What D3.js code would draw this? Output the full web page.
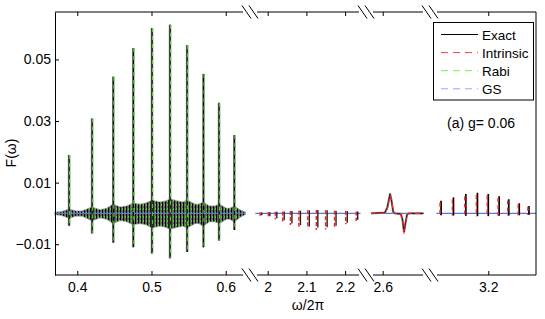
<!DOCTYPE html>
<html>
<head>
<meta charset="utf-8">
<script src="https://cdn.jsdelivr.net/npm/d3@7"></script>
<style>
  body { margin: 0; background: #fff; }
  text { font-family: "Liberation Sans", Arial, sans-serif; }
</style>
</head>
<body>
<svg id="chart"></svg>
<script>
const width = 545
const height = 319

// broken x axis: the four omega/2pi windows shown
const segDomains = [[0.37, 0.6327], [1.9543, 2.254], [2.5568, 2.7222], [3.0494, 3.3233]]
const baseExtents = [[0.37, 0.626], [1.968, 2.24], [2.57, 2.705], [3.066, 3.323]]

const xTicks = [0.4, 0.5, 0.6, 2, 2.1, 2.2, 2.6, 3.2]
const yTicks = [-0.01, 0.01, 0.03, 0.05]

// window 1: big spikes (Exact and Rabi lie on top of each other)
const seg1Omega = [0.389, 0.420, 0.4485, 0.4755, 0.5007, 0.525, 0.548, 0.570, 0.591, 0.6116]
const seg1Peak = [0.019, 0.0308, 0.0444, 0.0537, 0.0602, 0.0613, 0.0546, 0.0453, 0.0359, 0.0255]
const seg1Trough = [-0.004, -0.0065, -0.0095, -0.011, -0.013, -0.0146, -0.0125, -0.011, -0.0088, -0.0054]

// window 1: envelope of the fast oscillating band
const bandOmega = [0.370, 0.3794, 0.3888, 0.3982, 0.4063, 0.4198, 0.4306, 0.44, 0.4481, 0.4575, 0.467,
  0.4751, 0.4845, 0.4926, 0.5007, 0.5115, 0.5183, 0.525, 0.5358, 0.5425, 0.5479, 0.5587, 0.5641,
  0.5695, 0.578, 0.5858, 0.5912, 0.6006, 0.606, 0.6114, 0.6195, 0.6263]
const bandHi = [0.0003, 0.0005, 0.0013, 0.0007, 0.0007, 0.002, 0.0011, 0.0016, 0.0029, 0.002, 0.0023,
  0.0033, 0.0029, 0.0033, 0.0042, 0.0036, 0.0039, 0.0046, 0.0039, 0.0036, 0.0042, 0.0029, 0.0029,
  0.0036, 0.0023, 0.0023, 0.0029, 0.0016, 0.0016, 0.0023, 0.001, 0.0003]
const bandLo = [-0.0003, -0.0006, -0.0015, -0.0008, -0.0008, -0.0023, -0.0013, -0.0018, -0.0032, -0.0022, -0.0026,
  -0.0036, -0.0032, -0.0036, -0.0046, -0.004, -0.0043, -0.005, -0.0043, -0.004, -0.0046, -0.0032, -0.0032,
  -0.004, -0.0026, -0.0026, -0.0032, -0.0018, -0.0018, -0.0026, -0.0011, -0.0003]

// window 2: small negative spikes
const seg2Omega = [1.982, 2.003, 2.021, 2.040, 2.060, 2.082, 2.105, 2.127, 2.151, 2.174, 2.203, 2.230]
const seg2Peak = [0.0003, 0.0004, 0.0005, 0.0006, 0.0008, 0.0009, 0.001, 0.0011, 0.001, 0.0009, 0.0008, 0.0006]
const seg2Exact = [-0.0006, -0.0009, -0.0016, -0.0022, -0.0033, -0.0038, -0.0043, -0.0046, -0.0045, -0.004, -0.003, -0.0021]
const seg2Intrinsic = [-0.0008, -0.0011, -0.0019, -0.0026, -0.0038, -0.0044, -0.0049, -0.0054, -0.0052, -0.0046, -0.0035, -0.0025]

// window 3: dispersive feature
const seg3Omega = [2.570, 2.606, 2.612, 2.619, 2.623, 2.627, 2.632, 2.647, 2.651, 2.655, 2.659, 2.663, 2.668, 2.705]
const seg3Exact = [0, 0.0003, 0.002, 0.0064, 0.004, 0.0005, 0, -0.0002, -0.002, -0.006, -0.003, -0.0003, 0, 0]
const seg3Intrinsic = [0, 0.0002, 0.0015, 0.0058, 0.0045, 0.0008, 0, -0.0003, -0.0025, -0.0066, -0.0035, -0.0004, 0, 0]

// window 4: small positive spikes
const seg4Omega = [3.078, 3.110, 3.142, 3.172, 3.200, 3.228, 3.253, 3.280, 3.305]
const seg4Exact = [0.0041, 0.0052, 0.0063, 0.0067, 0.0063, 0.0056, 0.0046, 0.0033, 0.0024]
const seg4Trough = [-0.0006, -0.0007, -0.0008, -0.0009, -0.0009, -0.0008, -0.0007, -0.0006, -0.0005]
const seg4Intrinsic = [0.0035, 0.0045, 0.0055, 0.006, 0.0058, 0.005, 0.0042, 0.003, 0.0022]

const legendNames = ["Exact", "Intrinsic", "Rabi", "GS"]
const legendColors = ["#000", "#ff3b3b", "#7ef040", "#9aa4ee"]
const legendDash = [null, "7,5", "7,5", "7,5"]

const xScale = d3.scaleLinear()
  .domain(segDomains.flat())
  .range([55, 250, 250, 366, 366, 430, 430, 536])

const yScale = d3.scaleLinear()
  .domain([-0.02, 0.0654])
  .range([275, 12])

const svg = d3.select("#chart")
  .attr("width", width)
  .attr("height", height)
  .style("background", "#fff")

const defs = svg.append("defs")
const pat = defs.append("pattern")
  .attr("id", "band")
  .attr("width", 3)
  .attr("height", 4)
  .attr("patternUnits", "userSpaceOnUse")
pat.append("rect").attr("width", 3).attr("height", 4).attr("fill", "#666")
pat.append("rect").attr("x", 0).attr("width", 1).attr("height", 4).attr("fill", "#000")
pat.append("rect").attr("x", 2).attr("width", 1).attr("height", 2).attr("fill", "#45d81f")

const plot = svg.append("g")

// oscillating band in window 1
const band = bandOmega.map((w, i) => ({ w, hi: bandHi[i], lo: bandLo[i] }))
const area = d3.area()
  .x(d => xScale(d.w))
  .y0(d => yScale(d.lo))
  .y1(d => yScale(d.hi))
plot.append("path")
  .attr("d", area(band))
  .attr("fill", "#9a9a9a")
  .attr("stroke", "#aaa")
  .attr("stroke-width", 1.6)
plot.append("path")
  .attr("d", area(band))
  .attr("fill", "url(#band)")

// GS baseline
plot.selectAll(".base")
  .data(baseExtents)
  .enter()
  .append("line")
  .attr("x1", d => xScale(d[0]))
  .attr("x2", d => xScale(d[1]))
  .attr("y1", yScale(0))
  .attr("y2", yScale(0))
  .attr("stroke", "#5b78d0")
  .attr("stroke-width", 1.2)

const spikes = seg1Omega.map((w, i) => ({ w, top: seg1Peak[i], bot: seg1Trough[i] }))

plot.selectAll(".halo")
  .data(spikes)
  .enter()
  .append("line")
  .attr("x1", d => xScale(d.w))
  .attr("x2", d => xScale(d.w))
  .attr("y1", d => yScale(d.top))
  .attr("y2", d => yScale(d.bot))
  .attr("stroke", "#7a7a7a")
  .attr("stroke-width", 2.6)
  .attr("opacity", 0.8)

plot.selectAll(".exact1")
  .data(spikes)
  .enter()
  .append("line")
  .attr("x1", d => xScale(d.w))
  .attr("x2", d => xScale(d.w))
  .attr("y1", d => yScale(d.top))
  .attr("y2", d => yScale(d.bot))
  .attr("stroke", "#000")
  .attr("stroke-width", 1.2)

plot.selectAll(".rabi1")
  .data(spikes)
  .enter()
  .append("line")
  .attr("x1", d => xScale(d.w) + 0.5)
  .attr("x2", d => xScale(d.w) + 0.5)
  .attr("y1", d => yScale(d.top))
  .attr("y2", d => yScale(d.bot))
  .attr("stroke", "#3fd81a")
  .attr("stroke-width", 1.1)
  .attr("stroke-dasharray", "4,4")

// window 2
const s2 = seg2Omega.map((w, i) => ({ w, top: seg2Peak[i], ex: seg2Exact[i], intr: seg2Intrinsic[i] }))
plot.selectAll(".exact2")
  .data(s2)
  .enter()
  .append("line")
  .attr("x1", d => xScale(d.w) + 1)
  .attr("x2", d => xScale(d.w) + 1)
  .attr("y1", d => yScale(d.top))
  .attr("y2", d => yScale(d.ex))
  .attr("stroke", "#222")
  .attr("stroke-width", 1.4)
plot.selectAll(".intr2")
  .data(s2)
  .enter()
  .append("line")
  .attr("x1", d => xScale(d.w) - 0.5)
  .attr("x2", d => xScale(d.w) - 0.5)
  .attr("y1", d => yScale(d.top))
  .attr("y2", d => yScale(d.intr))
  .attr("stroke", "#ff2020")
  .attr("stroke-width", 1.5)
  .attr("stroke-dasharray", "4,2")

// window 3
const line = d3.line()
  .x(d => xScale(d[0]))
  .y(d => yScale(d[1]))
plot.append("path")
  .attr("d", line(seg3Omega.map((w, i) => [w, seg3Exact[i]])))
  .attr("fill", "none")
  .attr("stroke", "#888")
  .attr("stroke-width", 2.2)
plot.append("path")
  .attr("d", line(seg3Omega.map((w, i) => [w, seg3Exact[i]])))
  .attr("fill", "none")
  .attr("stroke", "#111")
  .attr("stroke-width", 1)
plot.append("path")
  .attr("d", line(seg3Omega.map((w, i) => [w, seg3Intrinsic[i]])))
  .attr("fill", "none")
  .attr("stroke", "#ff2020")
  .attr("stroke-width", 1.2)
  .attr("stroke-dasharray", "5,3")

// window 4
const s4 = seg4Omega.map((w, i) => ({ w, top: seg4Exact[i], bot: seg4Trough[i], intr: seg4Intrinsic[i] }))
plot.selectAll(".exact4")
  .data(s4)
  .enter()
  .append("line")
  .attr("x1", d => xScale(d.w))
  .attr("x2", d => xScale(d.w))
  .attr("y1", d => yScale(d.top))
  .attr("y2", d => yScale(d.bot))
  .attr("stroke", "#000")
  .attr("stroke-width", 1.7)
plot.selectAll(".intr4")
  .data(s4)
  .enter()
  .append("line")
  .attr("x1", d => xScale(d.w) - 1)
  .attr("x2", d => xScale(d.w) - 1)
  .attr("y1", d => yScale(d.intr))
  .attr("y2", d => yScale(d.bot))
  .attr("stroke", "#ff2020")
  .attr("stroke-width", 1.5)
  .attr("stroke-dasharray", "4,3")

// axes
const fontSize = 14
const xAxis = d3.axisBottom(xScale)
  .tickValues(xTicks)
  .tickFormat(d => String(d))
  .tickSizeInner(-4)
  .tickSizeOuter(0)
  .tickPadding(7)

svg.append("g")
  .attr("transform", `translate(0, ${yScale.range()[0]})`)
  .call(xAxis)
  .call(g => g.select(".domain").remove())
  .call(g => g.selectAll("text").attr("font-size", fontSize).attr("font-family", "Liberation Sans, Arial, sans-serif"))

svg.append("g")
  .attr("transform", `translate(0, ${yScale.range()[1]})`)
  .call(d3.axisTop(xScale).tickValues(xTicks).tickFormat(() => "").tickSizeInner(-4).tickSizeOuter(0))
  .call(g => g.select(".domain").remove())

svg.append("g")
  .attr("transform", `translate(55, 0)`)
  .call(d3.axisLeft(yScale).tickValues(yTicks).tickFormat(d3.format(".2f")).tickSizeInner(-4).tickSizeOuter(0).tickPadding(4))
  .call(g => g.selectAll("text").attr("font-size", fontSize).attr("font-family", "Liberation Sans, Arial, sans-serif"))

svg.append("line")
  .attr("x1", 536).attr("x2", 536)
  .attr("y1", yScale.range()[1]).attr("y2", yScale.range()[0])
  .attr("stroke", "#000")

// box lines broken at the axis breaks
const breakPx = [250, 366, 430]
const gap = 7
const pieces = segDomains.map((d, i) => [
  xScale(d[0]) + (i > 0 ? gap : 0),
  xScale(d[1]) - (i < segDomains.length - 1 ? gap : 0)
])
yScale.range().forEach(yy => {
  svg.selectAll(null)
    .data(pieces)
    .enter()
    .append("line")
    .attr("x1", d => d[0])
    .attr("x2", d => d[1])
    .attr("y1", yy)
    .attr("y2", yy)
    .attr("stroke", "#000")
  breakPx.forEach(c => {
    [-3.5, 3.5].forEach(o => {
      svg.append("line")
        .attr("x1", c + o - 4.5).attr("y1", yy - 6.5)
        .attr("x2", c + o + 4.5).attr("y2", yy + 6.5)
        .attr("stroke", "#000")
    })
  })
})

// labels
svg.append("text")
  .attr("x", 308)
  .attr("y", 310)
  .attr("text-anchor", "middle")
  .attr("font-size", fontSize)
  .text("ω/2π")

svg.append("text")
  .attr("transform", "translate(16, 153) rotate(-90)")
  .attr("text-anchor", "middle")
  .attr("font-size", fontSize)
  .text("F(ω)")

svg.append("text")
  .attr("x", 447)
  .attr("y", 128)
  .attr("font-size", fontSize)
  .text("(a) g= 0.06")

// legend
const legend = svg.append("g")
legend.append("rect")
  .attr("x", 433.5).attr("y", 22.5)
  .attr("width", 100).attr("height", 77.5)
  .attr("fill", "#fff")
  .attr("stroke", "#000")
const rows = legend.selectAll(".row")
  .data(legendNames)
  .enter()
  .append("g")
  .attr("transform", (d, i) => `translate(0, ${34.5 + i * 18.1})`)
rows.append("line")
  .attr("x1", 441).attr("x2", 478)
  .attr("stroke", (d, i) => legendColors[i])
  .attr("stroke-width", 1)
  .attr("stroke-dasharray", (d, i) => legendDash[i])
rows.append("text")
  .attr("x", 482)
  .attr("y", 5)
  .attr("font-size", 13.5)
  .text(d => d)
</script>
</body>
</html>
